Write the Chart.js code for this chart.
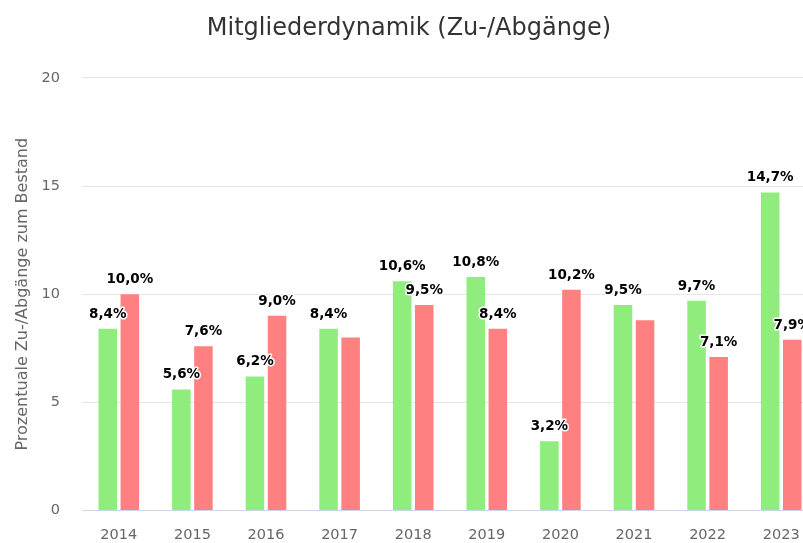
<!DOCTYPE html>
<html lang="de">
<head>
<meta charset="utf-8">
<title>Mitgliederdynamik</title>
<script src="https://cdn.jsdelivr.net/npm/chart.js@4.4.1/dist/chart.umd.min.js"></script>
<style>
    html, body { margin: 0; padding: 0; background: #fff; overflow: hidden; }
    canvas { display: block; }
</style>
</head>
<body>
<canvas id="dynamikChart" width="820" height="543"></canvas>
<script>
const jahre = ['2014', '2015', '2016', '2017', '2018', '2019', '2020', '2021', '2022', '2023'];
const zugaenge = [8.4, 5.6, 6.2, 8.4, 10.6, 10.8, 3.2, 9.5, 9.7, 14.7];
const abgaenge = [10.0, 7.6, 9.0, 8.0, 9.5, 8.4, 10.2, 8.8, 7.1, 7.9];
const achseMin = 0;
const achseMax = 20;
const achseSchritt = 5;

const schrift = '"DejaVu Sans", sans-serif';

function formatProzent(v) {
    return v.toFixed(1).replace('.', ',') + '%';
}

// Beschriftungen über den Balken, überlappende werden weggelassen
const etikettenPlugin = {
    id: 'etiketten',
    afterDatasetsDraw(chart) {
        const ctx = chart.ctx;
        const belegt = [];
        ctx.save();
        ctx.font = 'bold 13.5px ' + schrift;
        ctx.textAlign = 'center';
        ctx.textBaseline = 'alphabetic';
        ctx.lineJoin = 'round';
        chart.data.datasets.forEach((ds, di) => {
            const meta = chart.getDatasetMeta(di);
            meta.data.forEach((bar, i) => {
                const text = formatProzent(ds.data[i]);
                const w = ctx.measureText(text).width;
                const x = bar.x;
                const y = bar.y - 11;
                const box = { l: x - w / 2 - 2, r: x + w / 2 + 2, t: y - 14, b: y + 4 };
                const kollision = belegt.some(o => box.l < o.r && box.r > o.l && box.t < o.b && box.b > o.t);
                if (kollision) return;
                belegt.push(box);
                ctx.strokeStyle = '#fff';
                ctx.lineWidth = 3;
                ctx.strokeText(text, x, y);
                ctx.fillStyle = '#000';
                ctx.fillText(text, x, y);
            });
        });
        ctx.restore();
    }
};

new Chart(document.getElementById('dynamikChart').getContext('2d'), {
    type: 'bar',
    data: {
        labels: jahre,
        datasets: [
            { label: 'Zugänge', data: zugaenge, backgroundColor: '#90ed7d', barPercentage: 0.84, categoryPercentage: 0.6 },
            { label: 'Abgänge', data: abgaenge, backgroundColor: '#ff8080', barPercentage: 0.84, categoryPercentage: 0.6 }
        ]
    },
    options: {
        responsive: false,
        animation: false,
        layout: { padding: { left: 0, right: 2, top: 0, bottom: -17 } },
        plugins: {
            legend: { display: false },
            tooltip: { enabled: false },
            title: {
                display: true,
                text: 'Mitgliederdynamik (Zu-/Abgänge)',
                color: '#333',
                font: { family: schrift, size: 24, weight: 'normal' },
                padding: { top: 14, bottom: 35 }
            }
        },
        scales: {
            x: {
                grid: { display: false, drawTicks: false },
                border: { display: true, color: '#ccd6eb', width: 1 },
                ticks: { color: '#666', font: { family: schrift, size: 14.5 }, padding: 16 }
            },
            y: {
                min: achseMin,
                max: achseMax,
                ticks: { stepSize: achseSchritt, color: '#666', font: { family: schrift, size: 14.5 }, padding: 22 },
                grid: {
                    drawTicks: false,
                    color: c => c.tick && c.tick.value === 0 ? '#ccd6eb' : '#e6e6e6'
                },
                border: { display: false },
                title: {
                    display: true,
                    text: 'Prozentuale Zu-/Abgänge zum Bestand',
                    color: '#666',
                    font: { family: schrift, size: 16, weight: 'normal' },
                    padding: { top: 13, bottom: 0 }
                },
                afterFit(scale) { scale.width = 82; }
            }
        }
    },
    plugins: [etikettenPlugin]
});
</script>
</body>
</html>
